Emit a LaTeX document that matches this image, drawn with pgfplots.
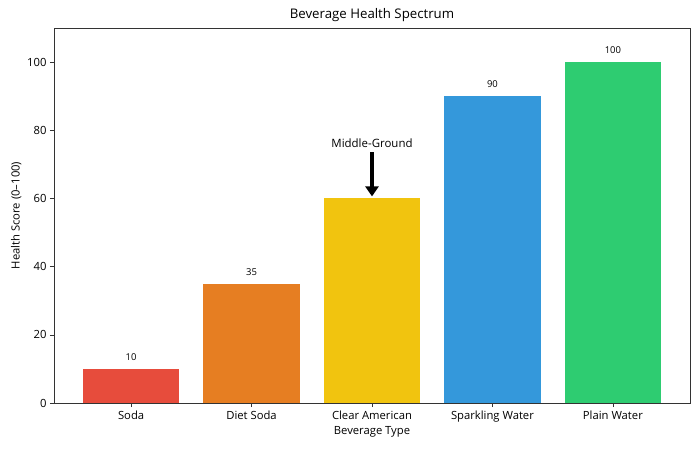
\documentclass[border=0pt]{standalone}
\usepackage{pgfplots}
\pgfplotsset{compat=1.18}
\usepackage{fontspec}
\setmainfont{Open Sans}
\usetikzlibrary{arrows.meta}
\definecolor{csoda}{HTML}{E74C3C}
\definecolor{cdiet}{HTML}{E67E22}
\definecolor{cclear}{HTML}{F1C40F}
\definecolor{cspark}{HTML}{3498DB}
\definecolor{cplain}{HTML}{2ECC71}
\definecolor{axgray}{HTML}{333333}

\begin{document}
\begin{tikzpicture}
\begin{axis}[
  scale only axis,
  width=636bp, height=375bp,
  xmin=-0.64, xmax=4.64,
  ymin=0, ymax=110,
  xtick={0,1,2,3,4},
  xticklabels={Soda,Diet Soda,Clear American,Sparkling Water,Plain Water},
  ytick={0,20,40,60,80,100},
  tick pos=left,
  tick align=outside,
  major tick length=4bp,
  tick style={axgray, line width=0.6bp},
  axis line style={axgray, line width=0.8bp},
  /pgf/number format/assume math mode=true,
  ticklabel style={font=\fontsize{11.3}{13}\selectfont, text=black},
  title={Beverage Health Spectrum},
  title style={font=\fontsize{13.3}{15}\selectfont, yshift=-3bp},
  xlabel={Beverage Type},
  ylabel={Health Score (0--100)},
  label style={font=\fontsize{11.3}{13}\selectfont},
  xlabel style={yshift=2bp},
  ylabel style={yshift=-1bp},
  every node near coord/.append style={font=\fontsize{9.5}{11}\selectfont, text=black, yshift=5bp},
]
\addplot[ybar, bar shift=0pt, bar width=0.8, fill=csoda, draw=none, nodes near coords] coordinates {(0,10)};
\addplot[ybar, bar shift=0pt, bar width=0.8, fill=cdiet, draw=none, nodes near coords] coordinates {(1,35)};
\addplot[ybar, bar shift=0pt, bar width=0.8, fill=cclear, draw=none] coordinates {(2,60)};
\addplot[ybar, bar shift=0pt, bar width=0.8, fill=cspark, draw=none, nodes near coords] coordinates {(3,90)};
\addplot[ybar, bar shift=0pt, bar width=0.8, fill=cplain, draw=none, nodes near coords] coordinates {(4,100)};
\draw[-{Triangle[width=13bp,length=10bp]}, line width=4.5bp] (axis cs:2,73.5) -- (axis cs:2,60.6);
\node[anchor=base, font=\fontsize{11.5}{13}\selectfont, inner sep=0pt] at (axis cs:2,75) {Middle-Ground};
\end{axis}
\useasboundingbox ([shift={(-54bp,-47bp)}]current axis.south west) rectangle ([shift={(10bp,28bp)}]current axis.north east);
\end{tikzpicture}
\end{document}
